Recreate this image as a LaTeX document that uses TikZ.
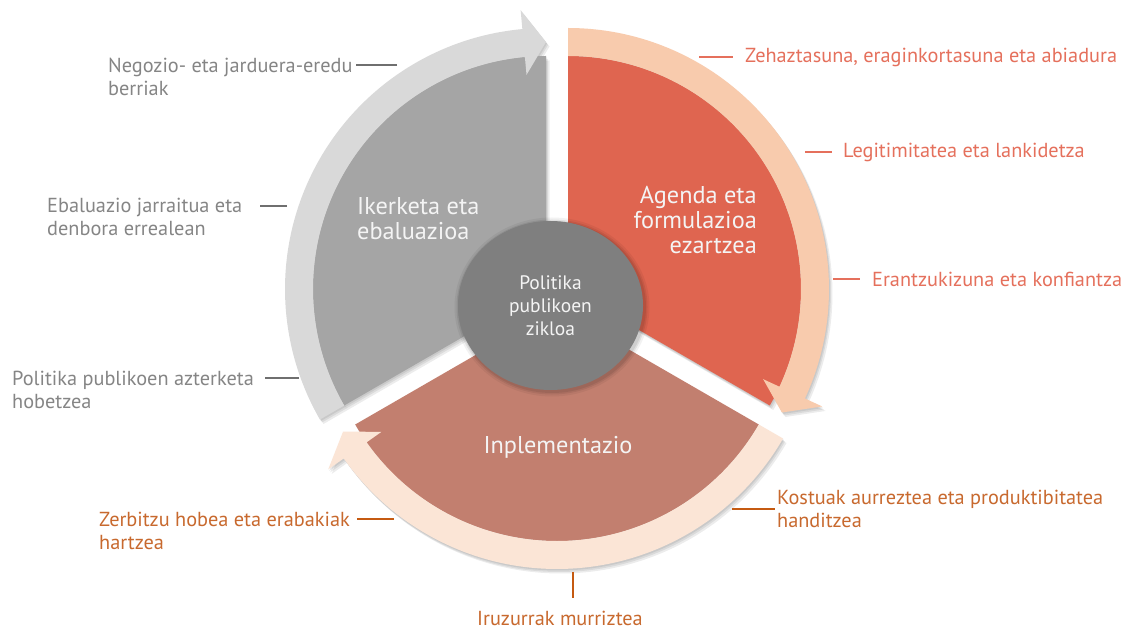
\documentclass[tikz,border=0pt]{standalone}
\usepackage{fontspec}
\setmainfont{PT Sans}
\usetikzlibrary{calc,shapes.geometric}
\definecolor{secgray}{HTML}{A5A5A5}
\definecolor{ringgray}{HTML}{D9D9D9}
\definecolor{secred}{HTML}{DF6550}
\definecolor{ringorange}{HTML}{F8CBAD}
\definecolor{secbrown}{HTML}{C27F6F}
\definecolor{ringpink}{HTML}{FBE5D6}
\definecolor{hubgray}{HTML}{7F7F7F}
\definecolor{labgray}{HTML}{858585}
\definecolor{linegray}{HTML}{6F6F6F}
\definecolor{labred}{HTML}{E5705C}
\definecolor{laborange}{HTML}{C8692E}
\definecolor{lineorange}{HTML}{C55A11}
\definecolor{sectext}{HTML}{F4F4F4}
\newcommand\cyclepiece[7]{% #1 centre, #2 start, #3 end, #4 base, #5 sector colour, #6 ring colour, #7 name
  \begin{scope}[shift={#1}]
    \fill[#5] (0,0) -- (#3:233) arc[start angle=#3, end angle=#2, radius=233] -- cycle;
    \fill[#6] (#2:233) arc[start angle=#2, end angle=#4, radius=233] -- (#4:215) -- (#3:247)
      -- (#4:280) -- (#4:261) arc[start angle=#4, end angle=#2, radius=261] -- cycle;
    \coordinate (#7) at (0,0);
  \end{scope}}
\newcommand\cycleshadow[4]{%
  \begin{scope}[shift={#1}]
    \foreach \dx/\dy in {1/-1.5, 2/-3, 3.5/-4.5}{
      \fill[black, opacity=0.075, shift={(\dx,\dy)}] (0,0) -- (#3:233) arc[start angle=#3, end angle=#2, radius=233] -- cycle;
      \fill[black, opacity=0.075, shift={(\dx,\dy)}] (#2:233) arc[start angle=#2, end angle=#4, radius=233] -- (#4:215) -- (#3:247)
        -- (#4:280) -- (#4:261) arc[start angle=#4, end angle=#2, radius=261] -- cycle;
    }
  \end{scope}}
\begin{document}
\begin{tikzpicture}[x=1pt,y=1pt,
  glabel/.style={font=\fontsize{20.3}{23}\selectfont, text=labgray, align=left, inner sep=0pt},
  rlabel/.style={font=\fontsize{20.3}{23}\selectfont, text=labred, align=left, inner sep=0pt},
  olabel/.style={font=\fontsize{20.3}{23}\selectfont, text=laborange, align=left, inner sep=0pt},
  seclabel/.style={font=\fontsize{24.3}{25}\selectfont, text=sectext, inner sep=0pt},
  gline/.style={draw=linegray, line width=1.4pt},
  rline/.style={draw=labred, line width=1.4pt},
  oline/.style={draw=lineorange, line width=1.4pt}]
\useasboundingbox (0,0) rectangle (1127,630);
\fill[white] (0,0) rectangle (1127,630);
% shadows
\cycleshadow{(546,341)}{210}{90}{95.2}
\cycleshadow{(568,341)}{90}{-30}{-24.8}
\cycleshadow{(557,322)}{-30}{-150}{-144.8}
% pieces
\cyclepiece{(546,341)}{210}{90}{95.2}{secgray}{ringgray}{cgray}
\cyclepiece{(568,341)}{90}{-30}{-24.8}{secred}{ringorange}{cred}
\cyclepiece{(557,322)}{-30}{-150}{-144.8}{secbrown}{ringpink}{cbrown}
% hub
\foreach \s/\op in {5/0.05,3/0.07,1.5/0.08}{
  \fill[black, opacity=\op] (552,323) ellipse[x radius=92.5+\s, y radius=84.5+\s];
}
\node[ellipse, fill=hubgray, minimum width=185pt, minimum height=169pt, inner sep=0pt,
  font=\fontsize{19.5}{23}\selectfont, text=sectext, align=center] (hub) at (550.5,324.5)
  {Politika\\publikoen\\zikloa};
% sector labels
\node[seclabel, align=left, anchor=west] (s1) at (357,411) {Ikerketa eta\\ebaluazioa};
\node[seclabel, align=right, anchor=east] (s2) at (757,410) {Agenda eta\\formulazioa\\ezartzea};
\node[seclabel] (s3) at (558,183) {Inplementazio};
% gray labels
\node[glabel, anchor=west] (g1) at (108,553) {Negozio- eta jarduera-eredu\\berriak};
\node[glabel, anchor=west] (g2) at (47,413) {Ebaluazio jarraitua eta\\denbora errealean};
\node[glabel, anchor=west] (g3) at (12,240.5) {Politika publikoen azterketa\\hobetzea};
\coordinate (g1r) at (397,565);
\coordinate (g2r) at (287,424);
\coordinate (g3r) at (299,252);
\draw[gline] (g1r) -- ([xshift=3pt]g1.east |- g1r);
\draw[gline] (g2r) -- ([xshift=18pt]g2.east |- g2r);
\draw[gline] (g3r) -- ([xshift=11pt]g3.east |- g3r);
% red labels
\node[rlabel, anchor=west] (r1) at (745,573) {Zehaztasuna, eraginkortasuna eta abiadura};
\node[rlabel, anchor=west] (r2) at (843,478) {Legitimitatea eta lankidetza};
\node[rlabel, anchor=west] (r3) at (872,351) {Erantzukizuna eta konfiantza};
\coordinate (r1r) at (699,573);
\coordinate (r2r) at (805,478);
\coordinate (r3r) at (833,351);
\draw[rline] (r1r) -- ([xshift=-12pt]r1.west |- r1r);
\draw[rline] (r2r) -- ([xshift=-11pt]r2.west |- r2r);
\draw[rline] (r3r) -- ([xshift=-12pt]r3.west |- r3r);
% orange labels
\node[olabel, anchor=west] (o1) at (99,99.5) {Zerbitzu hobea eta erabakiak\\hartzea};
\node[olabel, anchor=west] (o2) at (777,121) {Kostuak aurreztea eta produktibitatea\\handitzea};
\node[olabel] (o3) at (560,12) {Iruzurrak murriztea};
\coordinate (o1r) at (394,111);
\coordinate (o2r) at (732,121);
\coordinate (o3r) at (573,58);
\draw[oline] (o1r) -- ([xshift=7pt]o1.east |- o1r);
\draw[oline] (o2r) -- ([xshift=-2pt]o2.west |- o2r);
\draw[oline] (o3r) -- ([yshift=12pt]o3.north -| o3r);
\end{tikzpicture}
\end{document}
